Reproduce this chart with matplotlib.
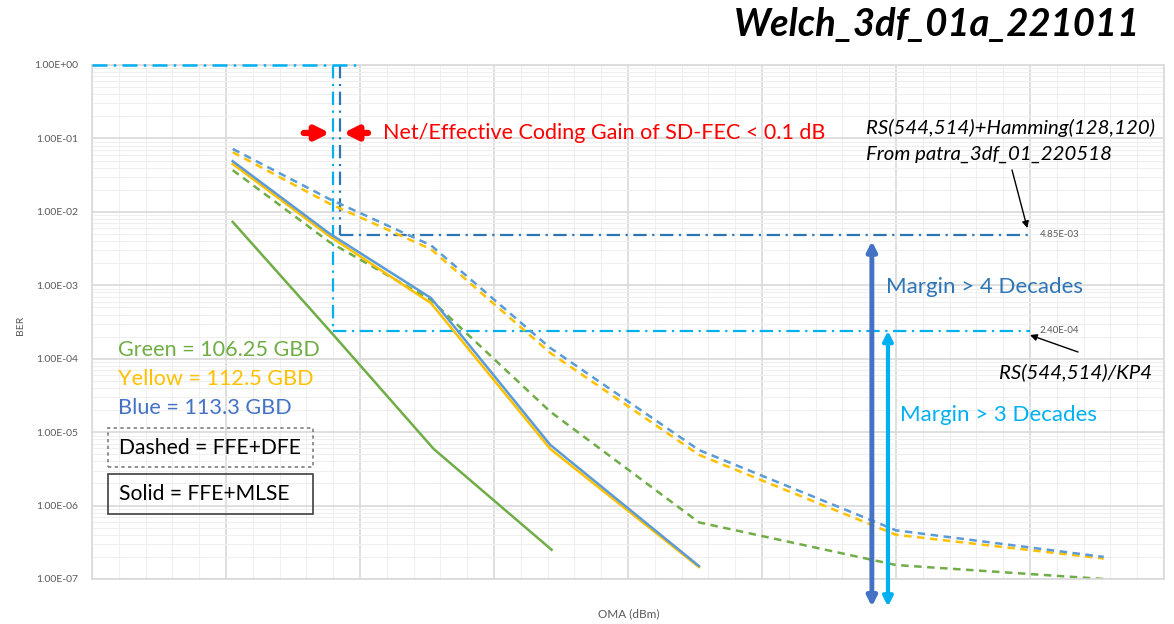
import numpy as np
import matplotlib.pyplot as plt
from matplotlib.ticker import MultipleLocator, LogLocator, NullFormatter, FuncFormatter
from matplotlib.patches import Rectangle

plt.rcParams['font.family'] = ['Lato', 'DejaVu Sans']

W, H = 1174, 624

# OMA sweep points (dBm)
oma = [-8.95, -8.23, -7.47, -6.58, -5.47, -4.0, -2.45]
oma_mlse = oma[:5]
oma_green_mlse = [-8.95, -8.23, -7.45, -6.57]

# BER, FFE+MLSE
ber_blue_mlse = [4.9e-2, 5.1e-3, 6.7e-4, 6.7e-6, 1.5e-7]
ber_yellow_mlse = [4.5e-2, 4.7e-3, 5.7e-4, 5.9e-6, 1.45e-7]
ber_green_mlse = [7.3e-3, 2.45e-4, 5.9e-6, 2.5e-7]

# BER, FFE+DFE
ber_blue_dfe = [7.2e-2, 1.5e-2, 3.5e-3, 1.4e-4, 5.7e-6, 4.6e-7, 2.0e-7]
ber_yellow_dfe = [6.5e-2, 1.3e-2, 3.1e-3, 1.2e-4, 4.9e-6, 4.0e-7, 1.9e-7]
ber_green_dfe = [3.7e-2, 3.9e-3, 6.3e-4, 1.9e-5, 5.9e-7, 1.55e-7, 1.0e-7]

# FEC thresholds
ber_hamming = 4.85e-3
ber_kp4 = 2.4e-4

BLUE = '#5b9bd5'
YELLOW = '#ffc000'
GREEN = '#70ad47'
DARK_BLUE = '#2e75b6'
LIGHT_BLUE = '#00b0f0'


def fp(x, y):
    # pixel (from top-left) -> figure fraction
    return x / W, 1 - y / H


fig = plt.figure(figsize=(W / 100, H / 100), dpi=100)
ax = fig.add_axes([92 / W, 1 - 579 / H, (1164 - 92) / W, (579 - 65) / H])
ax.set_yscale('log')
ax.set_xlim(-10, -2)
ax.set_ylim(1e-7, 1)

ax.xaxis.set_major_locator(MultipleLocator(1))
ax.xaxis.set_minor_locator(MultipleLocator(0.2))
ax.yaxis.set_major_locator(LogLocator(base=10, numticks=10))
ax.yaxis.set_minor_locator(LogLocator(base=10, subs=np.arange(2, 10), numticks=10))
ax.yaxis.set_minor_formatter(NullFormatter())
ax.yaxis.set_major_formatter(FuncFormatter(lambda v, p: f'{v:.2E}'))
ax.set_xticklabels([])
ax.grid(which='major', color='#d9d9d9', lw=1.2)
ax.grid(which='minor', color='#efefef', lw=0.8)
ax.set_axisbelow(True)
ax.tick_params(which='both', length=0)
ax.tick_params(axis='x', labelbottom=False)
ax.tick_params(axis='y', labelsize=7.5, labelcolor='#595959', pad=10)
for s in ax.spines.values():
    s.set_color('#d9d9d9')
    s.set_linewidth(1.2)

# threshold lines
dd = (0, (6, 2.5, 1, 2.5))
ax.plot([-10, -8.0], [1, 1], color=LIGHT_BLUE, lw=1.8, ls=dd, clip_on=False, zorder=4)
ax.plot([-8.20, -8.20], [1, ber_kp4], color=LIGHT_BLUE, lw=1.6, ls=dd)
ax.plot([-8.20, -3.0], [ber_kp4, ber_kp4], color=LIGHT_BLUE, lw=1.6, ls=dd)
ax.plot([-8.15, -8.15], [1, ber_hamming], color=DARK_BLUE, lw=1.6, ls=dd)
ax.plot([-8.15, -3.0], [ber_hamming, ber_hamming], color=DARK_BLUE, lw=1.6, ls=dd)
ax.text(-2.93, ber_hamming, f'{ber_hamming:.2E}', fontsize=7, color='#595959', va='center')
ax.text(-2.93, ber_kp4, f'{ber_kp4:.2E}', fontsize=7, color='#595959', va='center')

# BER curves
dash = (0, (3, 2.2))
ax.plot(oma, ber_green_dfe, color=GREEN, lw=1.8, ls=dash)
ax.plot(oma, ber_yellow_dfe, color=YELLOW, lw=1.8, ls=dash)
ax.plot(oma, ber_blue_dfe, color=BLUE, lw=1.8, ls=dash)
ax.plot(oma_green_mlse, ber_green_mlse, color=GREEN, lw=1.8)
ax.plot(oma_mlse, ber_yellow_mlse, color=YELLOW, lw=1.8)
ax.plot(oma_mlse, ber_blue_mlse, color=BLUE, lw=1.8)

# margin arrows
ax.annotate('', xy=(-4.18, 4.0e-3), xytext=(-4.18, 4.2e-8), annotation_clip=False,
            arrowprops=dict(arrowstyle='<|-|>', color='#4472c4', lw=3.5, mutation_scale=14,
                            shrinkA=0, shrinkB=0))
ax.annotate('', xy=(-4.06, ber_kp4), xytext=(-4.06, 4.2e-8), annotation_clip=False,
            arrowprops=dict(arrowstyle='<|-|>', color=LIGHT_BLUE, lw=3, mutation_scale=14,
                            shrinkA=0, shrinkB=0))

# coding gain arrows
ax.annotate('', xy=(-8.225, 0.1186), xytext=(-8.42, 0.1186),
            arrowprops=dict(arrowstyle='-|>', color='red', lw=4.5, mutation_scale=20, shrinkA=0, shrinkB=0))
ax.annotate('', xy=(-8.125, 0.1186), xytext=(-7.94, 0.1186),
            arrowprops=dict(arrowstyle='-|>', color='red', lw=4.5, mutation_scale=20, shrinkA=0, shrinkB=0))
fig.text(*fp(383, 133), 'Net/Effective Coding Gain of SD-FEC < 0.1 dB', color='red',
         fontsize=15.5, va='center')

# FEC annotations
fig.text(*fp(866, 128), 'RS(544,514)+Hamming(128,120)', fontsize=14.7, style='italic', va='center')
fig.text(*fp(866, 154), 'From patra_3df_01_220518', fontsize=14.7, style='italic', va='center')
ax.annotate('', xy=(-3.02, 6.0e-3), xytext=fp(1012, 170), textcoords='figure fraction',
            arrowprops=dict(arrowstyle='-|>', color='black', lw=1, mutation_scale=10, shrinkA=0, shrinkB=0))
fig.text(*fp(1152, 372), 'RS(544,514)/KP4', fontsize=14.7, style='italic', va='center', ha='right')
ax.annotate('', xy=(-3.0, 2.1e-4), xytext=fp(1078, 352), textcoords='figure fraction',
            arrowprops=dict(arrowstyle='-|>', color='black', lw=1, mutation_scale=10, shrinkA=0, shrinkB=0))

fig.text(*fp(886, 287), 'Margin > 4 Decades', fontsize=16, color=DARK_BLUE, va='center')
fig.text(*fp(900, 415), 'Margin > 3 Decades', fontsize=16, color=LIGHT_BLUE, va='center')

# colour / equaliser key
fig.text(*fp(118, 350), 'Green = 106.25 GBD', fontsize=15.6, color=GREEN, va='center')
fig.text(*fp(118, 379), 'Yellow = 112.5 GBD', fontsize=15.6, color=YELLOW, va='center')
fig.text(*fp(118, 408), 'Blue = 113.3 GBD', fontsize=15.6, color='#4472c4', va='center')
fig.patches.append(Rectangle(fp(108, 467), 205 / W, 39 / H, transform=fig.transFigure,
                             fill=False, ec='#7f7f7f', lw=1.2, ls=(0, (2, 2))))
fig.patches.append(Rectangle(fp(108, 514), 205 / W, 40 / H, transform=fig.transFigure,
                             fill=False, ec='#404040', lw=1.2))
fig.text(*fp(119, 448), 'Dashed = FFE+DFE', fontsize=15.2, va='center')
fig.text(*fp(119, 494), 'Solid = FFE+MLSE', fontsize=15.2, va='center')

fig.text(*fp(20, 325), 'BER', fontsize=7.5, color='#595959', rotation=90, va='center', ha='center')
fig.text(*fp(629, 614), 'OMA (dBm)', fontsize=8.5, color='#595959', va='center', ha='center')

fig.text(*fp(1140, 25), 'Welch_3df_01a_221011', fontsize=27.5, weight='bold', style='italic',
         ha='right', va='center')

fig.savefig('out.png', dpi=100)
